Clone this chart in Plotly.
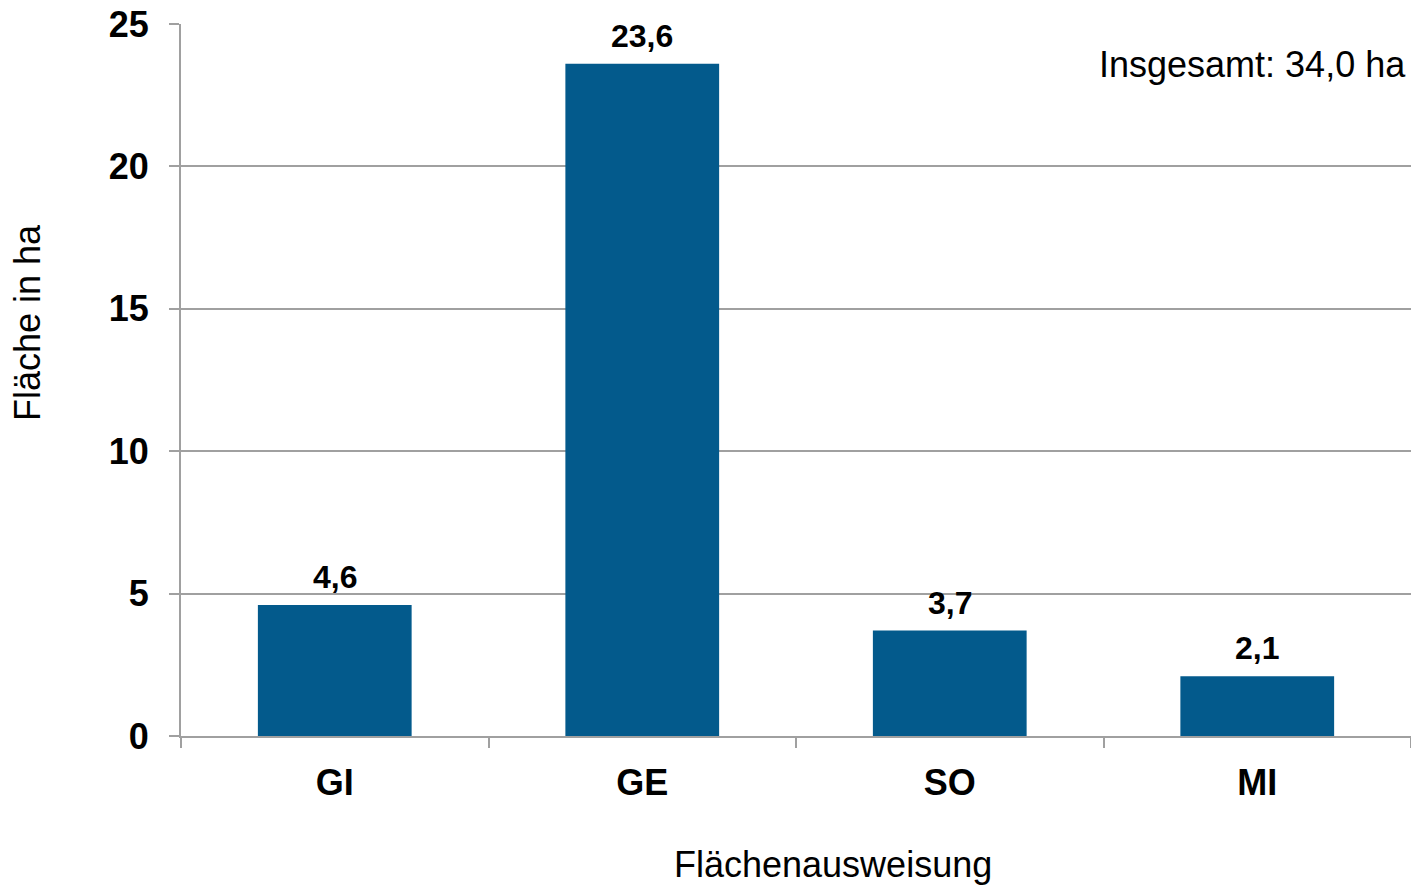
import plotly.graph_objects as go

categories = ["GI", "GE", "SO", "MI"]
values = [4.6, 23.6, 3.7, 2.1]
y_ticks = [0, 5, 10, 15, 20, 25]
total_label = "Insgesamt: 34,0 ha"

FONT = "Liberation Sans, Arial, sans-serif"
GRID = "#a0a0a0"

fig = go.Figure(go.Bar(
    x=categories, y=values, width=0.5,
    marker=dict(color="#035a8c", line=dict(width=0)),
    hoverinfo="x+y",
))

value_labels = [
    dict(x=c, y=v, xref="x", yref="y", text=f"{v:.1f}".replace(".", ","),
         showarrow=False, xanchor="center", yanchor="bottom", yshift=8,
         font=dict(family=FONT, size=32, color="black", weight="bold"))
    for c, v in zip(categories, values)
]

fig.update_layout(
    width=1411, height=886,
    margin=dict(l=181, r=0, t=24, b=150),
    plot_bgcolor="white", paper_bgcolor="white",
    separators=",.",
    showlegend=False,
    font=dict(family=FONT, color="black"),
    xaxis=dict(
        type="category", range=[-0.5, 3.5], tickson="boundaries",
        ticks="outside", ticklen=10, tickcolor=GRID, tickwidth=2,
        showline=True, linecolor=GRID, linewidth=2,
        showgrid=False,
        tickfont=dict(family=FONT, size=36, color="black", weight="bold"),
        ticklabelstandoff=14,
    ),
    yaxis=dict(
        range=[0, 25], tickvals=y_ticks,
        ticks="outside", ticklen=10, tickcolor=GRID, tickwidth=2,
        showline=True, linecolor=GRID, linewidth=2,
        showgrid=True, gridcolor=GRID, gridwidth=1.5,
        zeroline=False,
        tickfont=dict(family=FONT, size=36, color="black", weight="bold"),
        ticklabelstandoff=13,
    ),
    annotations=value_labels + [
        dict(text="Fläche in ha", textangle=-90, xref="paper", yref="paper",
             x=-(181 - 27) / 1230, y=(736 - 323) / 712, xanchor="center", yanchor="middle",
             showarrow=False, font=dict(family=FONT, size=36, color="black")),
        dict(text="Flächenausweisung", xref="paper", yref="paper",
             x=(833 - 181) / 1230, y=-(865 - 736) / 712, xanchor="center", yanchor="middle",
             showarrow=False, font=dict(family=FONT, size=36, color="black")),
        dict(text=total_label, xref="paper", yref="paper",
             x=(1408 - 181) / 1230, y=(736 - 64) / 712, xanchor="right", yanchor="middle",
             showarrow=False, font=dict(family=FONT, size=36, color="black")),
    ],
)

fig.write_html(
    "out.html",
    config={"displayModeBar": False},
    post_script="document.body.style.margin='0';document.documentElement.style.overflow='hidden';document.body.style.overflow='hidden';",
)
